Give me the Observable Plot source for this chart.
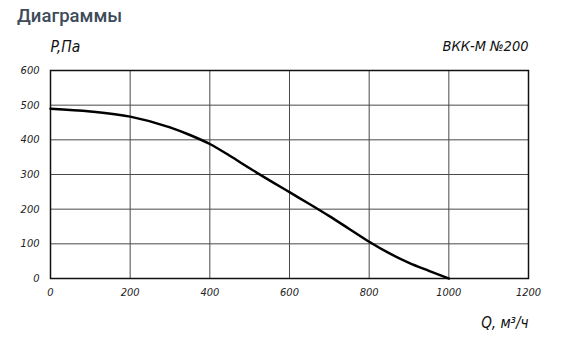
<!DOCTYPE html>
<html>
<head>
<meta charset="utf-8">
<script src="https://cdn.jsdelivr.net/npm/d3@7"></script>
<script src="https://cdn.jsdelivr.net/npm/@observablehq/plot@0.6"></script>
<style>
  html, body { margin: 0; padding: 0; background: #fff; }
  #wrap { position: relative; width: 570px; height: 346px; overflow: hidden; }
  #title { position: absolute; left: 17px; top: 5px; font-family: Roboto, "Noto Sans", sans-serif; font-size: 18.5px; font-weight: 500; color: #3e4b5b; }
  #chart { position: absolute; left: 0; top: 0; }
</style>
</head>
<body>
<div id="wrap">
  <div id="chart"></div>
  <div id="title">Диаграммы</div>
</div>
<script>
const flow = [0, 100, 200, 300, 350, 400, 450, 500, 600, 650, 700, 750, 800, 850, 900, 950, 1000];
const pressure = [490, 482, 467, 436, 414, 388, 354, 318, 249, 215, 180, 143, 106, 73, 45, 22, 0];
const xTicks = [0, 200, 400, 600, 800, 1000, 1200];
const yTicks = [0, 100, 200, 300, 400, 500, 600];
const yLabel = "P,Па";
const xLabel = "Q, м³/ч";
const modelLabel = "ВКК-М №200";

const data = flow.map((q, i) => ({q, p: pressure[i]}));

const fontFam = '"DejaVu Sans Condensed", "DejaVu Sans", sans-serif';

const chart = Plot.plot({
  width: 570,
  height: 346,
  marginLeft: 50,
  marginRight: 42,
  marginTop: 70,
  marginBottom: 68,
  style: { fontFamily: fontFam, fontStyle: "italic", fontSize: "11px", color: "#222", background: "transparent" },
  x: { domain: [0, 1200], ticks: xTicks, label: null, tickFormat: d => String(d) },
  y: { domain: [0, 600], ticks: yTicks, label: null, tickFormat: d => String(d) },
  marks: [
    Plot.gridX(xTicks, { stroke: "#4a4a4a", strokeOpacity: 1, strokeWidth: 1 }),
    Plot.gridY(yTicks, { stroke: "#4a4a4a", strokeOpacity: 1, strokeWidth: 1 }),
    Plot.frame({ stroke: "#111", strokeWidth: 1.5 }),
    Plot.axisX(xTicks, { tickSize: 0, tickPadding: 10, fontSize: 11, fill: "#222", tickFormat: d => String(d) }),
    Plot.axisY(yTicks, { tickSize: 0, tickPadding: 11, fontSize: 11, fill: "#222", tickFormat: d => String(d) }),
    Plot.line(data, { x: "q", y: "p", curve: "monotone-x", stroke: "#000", strokeWidth: 2.5 }),
    Plot.text([yLabel], { frameAnchor: "top-left", text: d => d, dy: -19, dx: 0, fontSize: 15.5, textAnchor: "start", lineAnchor: "bottom", fill: "#111" }),
    Plot.text([modelLabel], { frameAnchor: "top-right", text: d => d, dy: -20, dx: 0, fontSize: 14.5, textAnchor: "end", lineAnchor: "bottom", fill: "#111" }),
    Plot.text([xLabel], { frameAnchor: "bottom-right", text: d => d, dy: 49, dx: 0, fontSize: 15, textAnchor: "end", lineAnchor: "bottom", fill: "#111" })
  ]
});
document.getElementById("chart").appendChild(chart);
</script>
</body>
</html>
